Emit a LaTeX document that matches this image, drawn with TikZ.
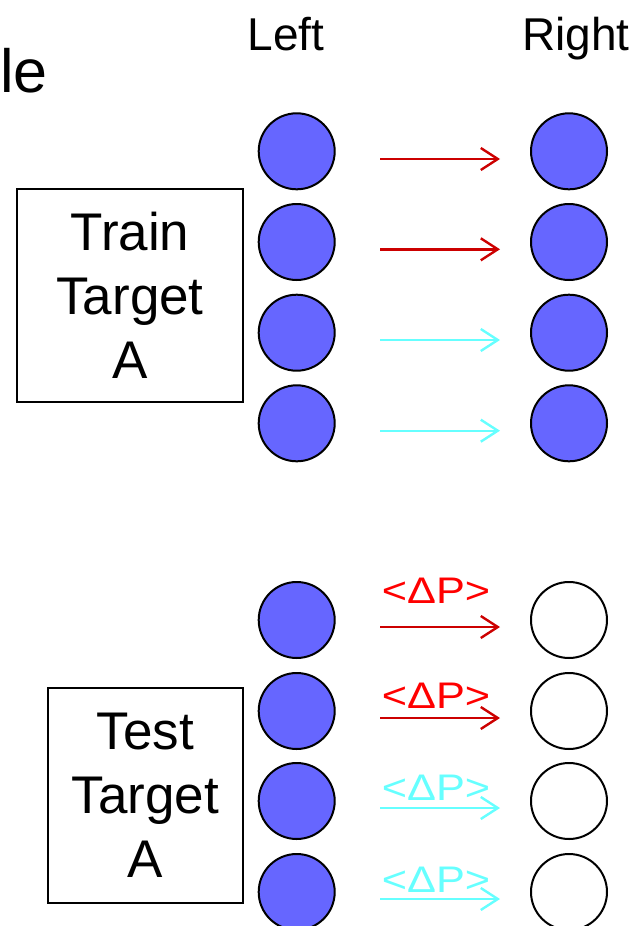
\documentclass[tikz,border=0pt]{standalone}
\usepackage{fontspec}
\setmainfont{Liberation Sans}
\usetikzlibrary{arrows.meta}
\definecolor{ballblue}{HTML}{6666FF}
\definecolor{darkred}{HTML}{CC0000}
\definecolor{labred}{HTML}{FF0000}
\definecolor{cyanish}{HTML}{66FFFF}
\tikzset{
  ball/.style={circle, draw=black, line width=2pt, minimum size=76pt, inner sep=0pt},
  filled/.style={ball, fill=ballblue},
  empty/.style={ball, fill=white},
  arr/.style={line width=2.4pt, -{Straight Barb[length=17pt,width=22pt,line width=2.4pt]}},
  redarr/.style={arr, draw=darkred},
  cyanarr/.style={arr, draw=cyanish},
  biglabel/.style={draw=black, line width=1.4pt, align=center, font=\fontsize{53}{64}\selectfont, inner sep=0pt},
  dp/.style={font=\fontsize{37}{40}\selectfont, inner sep=0pt, anchor=base, xscale=1.17},
  head/.style={font=\fontsize{46}{50}\selectfont, inner sep=0pt, anchor=base}
}
\begin{document}
\begin{tikzpicture}[x=1pt, y=-1pt]
\useasboundingbox (0,0) rectangle (636,926);
\clip (0,0) rectangle (636,926);
% headings
\node[font=\fontsize{61}{70}\selectfont, inner sep=0pt, anchor=base west] (title) at (0,92) {le};
\node[head] (hl) at (286,50) {Left};
\node[head] (hr) at (576,50) {Right};
% boxes
\node[biglabel, minimum width=226pt, minimum height=213pt] (train) at (130,295.5) {Train\\Target\\A};
\node[biglabel, minimum width=195pt, minimum height=215pt] (test) at (145.5,795.5) {Test\\Target\\A};
% top circles
\foreach \i/\y in {1/151.3,2/242,3/332.7,4/423.3}{
  \node[filled] (L\i) at (296.7,\y) {};
  \node[filled] (R\i) at (569,\y) {};
}
% bottom circles
\foreach \i/\y in {5/620,6/711,7/801,8/892}{
  \node[filled] (L\i) at (296.7,\y) {};
  \node[empty] (R\i) at (569,\y) {};
}
% arrows
\foreach \i/\y in {1/159,2/249.3,3/340,4/430.7,5/627,6/718,7/808,8/899}{
  \coordinate (s\i) at (380,\y);
  \coordinate (e\i) at (500,\y);
}
\draw[redarr] (s1) -- (e1);
\draw[redarr] (s2) -- (e2);
\draw[cyanarr] (s3) -- (e3);
\draw[cyanarr] (s4) -- (e4);
\draw[redarr] (s5) -- (e5);
\draw[redarr] (s6) -- (e6);
\draw[cyanarr] (s7) -- (e7);
\draw[cyanarr] (s8) -- (e8);
% labels
\node[dp, text=labred] (d5) at (436,603) {<ΔP>};
\node[dp, text=labred] (d6) at (436,708) {<ΔP>};
\node[dp, text=cyanish] (d7) at (436,800) {<ΔP>};
\node[dp, text=cyanish] (d8) at (436,892) {<ΔP>};
\end{tikzpicture}
\end{document}
